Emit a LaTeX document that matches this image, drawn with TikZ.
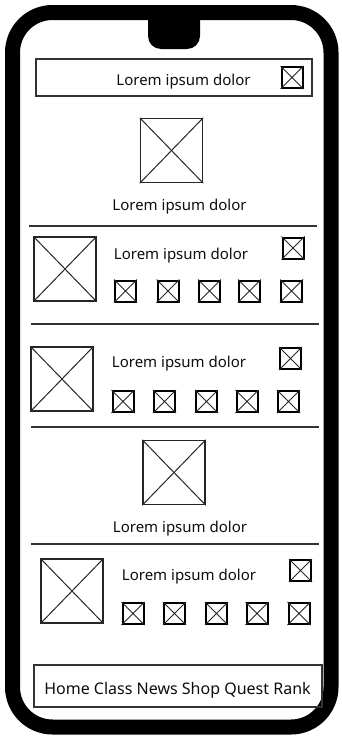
\documentclass[tikz,border=0pt]{standalone}
\usepackage{fontspec}
\setmainfont{Noto Sans}
\begin{document}
\begin{tikzpicture}[x=1pt,y=-1pt,
  frame/.style={draw=black, line width=15pt, rounded corners=40pt},
  notch/.style={fill=black, draw=none},
  panel/.style={draw=black!80, line width=1.3pt, inner sep=0pt},
  bigimg/.style={draw=black!85, line width=1.5pt, inner sep=0pt, minimum width=62pt, minimum height=64pt},
  icon/.style={draw=black, line width=2pt, inner sep=0pt, minimum width=21pt, minimum height=21pt},
  crossline/.style={draw=black!85, line width=1pt},
  divider/.style={draw=black!80, line width=1.5pt},
  lbl/.style={anchor=base, inner sep=0pt, text=black!95, font=\fontsize{15}{18}\selectfont},
  navlbl/.style={lbl, font=\fontsize{16}{19}\selectfont}]
\useasboundingbox (0,0) rectangle (341,736);
\newcommand\xbox[4]{%
  \node[#4] (#1) at (#2,#3) {};
  \draw[crossline] (#1.north west) -- (#1.south east) (#1.north east) -- (#1.south west);}
% phone frame
\draw[frame] (12.5,12.5) rectangle (331,727);
\fill[notch] (148,10) -- (148,36) to[out=-90,in=180] (161,49) -- (187,49) to[out=0,in=-90] (200,36) -- (200,10) -- cycle;
% header
\node[panel, minimum width=276pt, minimum height=37pt] (hdr) at (174,77.5) {};
\node[lbl] (hdrtxt) at (183.5,85) {Lorem ipsum dolor};
\xbox{hdricon}{292}{77.5}{icon}
% image A
\xbox{imgA}{171.5}{150.5}{bigimg}
\node[lbl] (txtA) at (179.5,210) {Lorem ipsum dolor};
\coordinate (d1a) at (29,226); \coordinate (d1b) at (317,226);
\draw[divider] (d1a) -- (d1b);
% row 1
\xbox{r1img}{65}{269}{bigimg}
\node[lbl] (r1txt) at (181,259) {Lorem ipsum dolor};
\xbox{r1icon}{293}{248}{icon}
\xbox{r1s1}{125.5}{291}{icon}
\xbox{r1s2}{168}{291}{icon}
\xbox{r1s3}{209.5}{291}{icon}
\xbox{r1s4}{249.5}{291}{icon}
\xbox{r1s5}{291.5}{291}{icon}
\coordinate (d2a) at (31,324); \coordinate (d2b) at (319,324);
\draw[divider] (d2a) -- (d2b);
% row 2
\xbox{r2img}{62}{379}{bigimg}
\node[lbl] (r2txt) at (179,367) {Lorem ipsum dolor};
\xbox{r2icon}{290.5}{358.5}{icon}
\xbox{r2s1}{123}{401.5}{icon}
\xbox{r2s2}{164.5}{401.5}{icon}
\xbox{r2s3}{206.5}{401.5}{icon}
\xbox{r2s4}{247}{401.5}{icon}
\xbox{r2s5}{288.5}{401.5}{icon}
\coordinate (d3a) at (31,427); \coordinate (d3b) at (319,427);
\draw[divider] (d3a) -- (d3b);
% image B
\xbox{imgB}{174}{472.5}{bigimg}
\node[lbl] (txtB) at (180,532) {Lorem ipsum dolor};
\coordinate (d4a) at (31,544); \coordinate (d4b) at (319,544);
\draw[divider] (d4a) -- (d4b);
% row 3
\xbox{r3img}{72}{591}{bigimg}
\node[lbl] (r3txt) at (189,580) {Lorem ipsum dolor};
\xbox{r3icon}{300.5}{570.5}{icon}
\xbox{r3s1}{133}{613.5}{icon}
\xbox{r3s2}{174.5}{613.5}{icon}
\xbox{r3s3}{216.5}{613.5}{icon}
\xbox{r3s4}{257}{613.5}{icon}
\xbox{r3s5}{299}{613.5}{icon}
% nav bar
\node[panel, minimum width=288pt, minimum height=42pt] (nav) at (178,686) {};
\node[navlbl] (navtxt) at (177.5,694) {Home Class News Shop Quest Rank};
\end{tikzpicture}
\end{document}
